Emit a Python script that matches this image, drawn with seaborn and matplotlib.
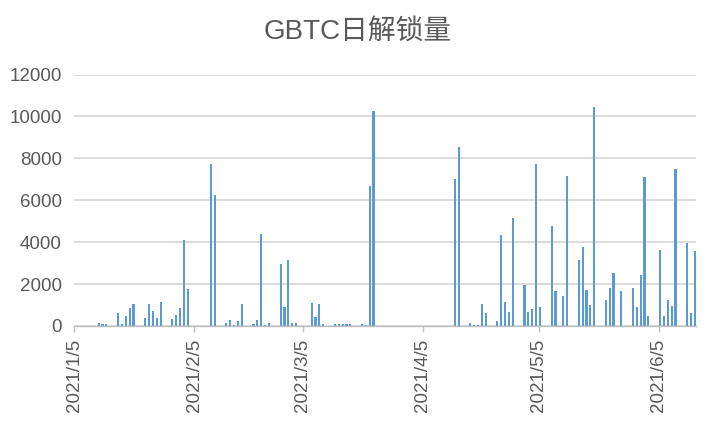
import matplotlib
matplotlib.use('Agg')
import matplotlib.pyplot as plt
import matplotlib.dates as mdates
import numpy as np
import pandas as pd
import seaborn as sns

# ── Data ────────────────────────────────────────────────────────────────────
DATES = ['2021-01-11', '2021-01-12', '2021-01-13',
         '2021-01-16', '2021-01-17', '2021-01-18', '2021-01-19', '2021-01-20',
         '2021-01-23', '2021-01-24', '2021-01-25', '2021-01-26', '2021-01-27',
         '2021-01-30', '2021-01-31', '2021-02-01', '2021-02-02', '2021-02-03',
         '2021-02-09', '2021-02-10',
         '2021-02-13', '2021-02-14', '2021-02-15', '2021-02-16', '2021-02-17',
         '2021-02-20', '2021-02-21', '2021-02-22', '2021-02-23', '2021-02-24',
         '2021-02-27', '2021-02-28', '2021-03-01', '2021-03-02', '2021-03-03',
         '2021-03-07', '2021-03-08', '2021-03-09', '2021-03-10',
         '2021-03-13', '2021-03-14', '2021-03-15', '2021-03-16', '2021-03-17',
         '2021-03-20', '2021-03-21', '2021-03-22', '2021-03-23',
         '2021-04-13', '2021-04-14',
         '2021-04-17', '2021-04-18', '2021-04-19', '2021-04-20', '2021-04-21',
         '2021-04-24', '2021-04-25', '2021-04-26', '2021-04-27', '2021-04-28',
         '2021-05-01', '2021-05-02', '2021-05-03', '2021-05-04', '2021-05-05',
         '2021-05-08', '2021-05-09', '2021-05-11', '2021-05-12',
         '2021-05-15', '2021-05-16', '2021-05-17', '2021-05-18', '2021-05-19',
         '2021-05-22', '2021-05-23', '2021-05-24', '2021-05-26',
         '2021-05-29', '2021-05-30', '2021-05-31', '2021-06-01', '2021-06-02',
         '2021-06-05', '2021-06-06', '2021-06-07', '2021-06-08', '2021-06-09',
         '2021-06-12', '2021-06-13', '2021-06-14']

UNLOCK = [120, 80, 80,
          600, 80, 490, 840, 1040,
          400, 1040, 720, 390, 1160,
          340, 540, 840, 4100, 1780,
          7750, 6250,
          150, 285, 60, 250, 1060,
          100, 285, 4390, 60, 150,
          2960, 920, 3160, 125, 125,
          1110, 450, 1030, 110,
          90, 80, 80, 80, 80,
          100, 60, 6680, 10260,
          7000, 8560,
          150, 60, 60, 1040, 620,
          240, 4330, 1140, 660, 5140,
          1940, 660, 790, 7720, 920,
          4790, 1670, 1420, 7140,
          3160, 3760, 1740, 1010, 10460,
          1250, 1800, 2540, 1670,
          1800, 920, 2450, 7090, 475,
          3620, 490, 1250, 960, 7500,
          3940, 600, 3600]

TICK_DATES = ['2021-01-05', '2021-02-05', '2021-03-05',
              '2021-04-05', '2021-05-05', '2021-06-05']
Y_TICKS = [0, 2000, 4000, 6000, 8000, 10000, 12000]

TITLE = 'GBTC日解锁量'
BAR_COLOR = '#5B9BD5'
TEXT_COLOR = '#595959'

# ── Style ───────────────────────────────────────────────────────────────────
sns.set_theme(style='white')
plt.rcParams['font.family'] = ['Liberation Sans', 'Noto Sans CJK SC', 'DejaVu Sans']

df = pd.DataFrame({'date': pd.to_datetime(DATES), 'unlock': UNLOCK})
# bars sit slightly inside each day band, like the original Excel chart
df['x'] = mdates.date2num(df['date']) + 0.3

fig = plt.figure(figsize=(7.16, 4.26), dpi=100)
ax = fig.add_axes([74.3 / 716, 100 / 426, (696 - 74.3) / 716, (326 - 74.5) / 426])

sns.barplot(data=df, x='x', y='unlock', native_scale=True, width=0.55,
            color=BAR_COLOR, saturation=1, errorbar=None, linewidth=0,
            ax=ax, zorder=3)

x0 = mdates.date2num(pd.Timestamp(TICK_DATES[0]))
ax.set_xlim(x0, x0 + 160.6)
ax.set_ylim(0, 12000)

ticks = pd.to_datetime(TICK_DATES)
ax.set_xticks(mdates.date2num(ticks))
ax.set_xticklabels([f'{d.year}/{d.month}/{d.day}' for d in ticks],
                   rotation=90, fontsize=13.5, color=TEXT_COLOR)
ax.set_yticks(Y_TICKS)
ax.set_yticklabels([str(v) for v in Y_TICKS], fontsize=13.5, color=TEXT_COLOR)

ax.tick_params(axis='y', length=0, pad=9)
ax.tick_params(axis='x', length=4, width=1, color='#bfbfbf', pad=5, bottom=True)

ax.grid(axis='y', color='#d9d9d9', linewidth=1.3, zorder=0)
ax.grid(axis='x', visible=False)
ax.set_axisbelow(True)
for side in ['top', 'right', 'left']:
    ax.spines[side].set_visible(False)
ax.spines['bottom'].set_color('#bfbfbf')
ax.spines['bottom'].set_linewidth(1)
ax.spines['bottom'].set_zorder(4)
ax.set_xlabel('')
ax.set_ylabel('')

fig.text(0.5, 1 - 32 / 426, TITLE, ha='center', va='center',
         fontsize=20, color=TEXT_COLOR)

fig.savefig('out.png', dpi=100)
plt.close(fig)
